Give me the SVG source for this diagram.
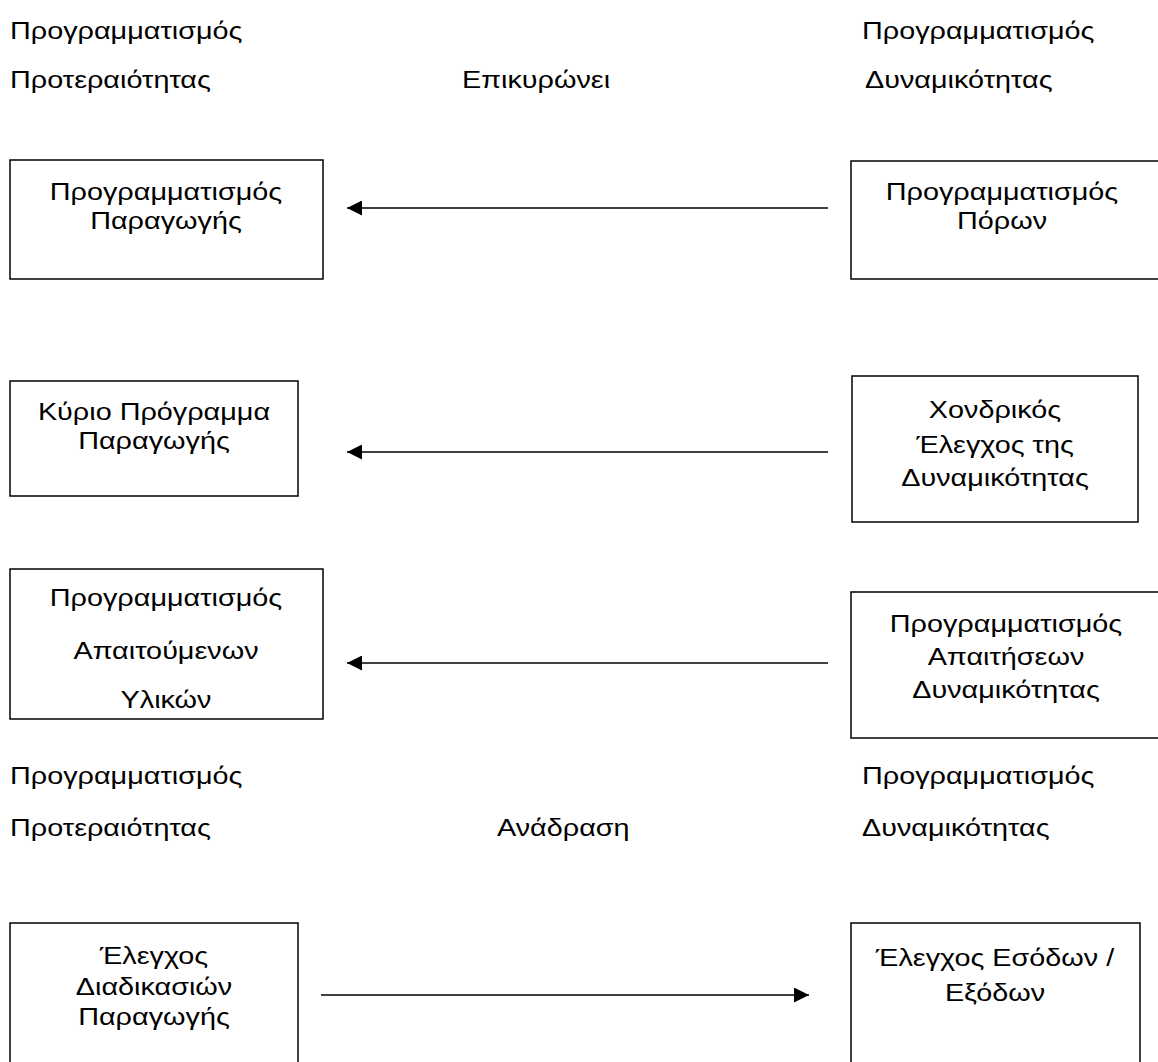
<svg xmlns="http://www.w3.org/2000/svg" width="1158" height="1062" viewBox="0 0 1158 1062">
  <defs>
    <style>
      .bg { fill: #ffffff; }
      .box { fill: none; stroke: #000000; stroke-width: 1.5; }
      .link { fill: none; stroke: #000000; stroke-width: 1.5; }
      text { font-family: "Liberation Sans", Arial, sans-serif; font-size: 24px; fill: #000000; }
      .c { text-anchor: middle; }
    </style>
    <marker id="head" viewBox="0 0 15 15" refX="15" refY="7.5" markerWidth="15" markerHeight="15" markerUnits="userSpaceOnUse" orient="auto">
      <path d="M0,0 L15,7.5 L0,15 Z" fill="#000000"/>
    </marker>
  </defs>

  <rect class="bg" x="0" y="0" width="1158" height="1062"/>

  <!-- heading labels, upper row -->
  <g id="labels-top">
    <text transform="translate(10 39) scale(1.2 1)">Προγραμματισμός</text>
    <text transform="translate(10 88) scale(1.2 1)">Προτεραιότητας</text>
    <text transform="translate(462 88) scale(1.2 1)">Επικυρώνει</text>
    <text transform="translate(862 39) scale(1.2 1)">Προγραμματισμός</text>
    <text transform="translate(865 88) scale(1.2 1)">Δυναμικότητας</text>
  </g>

  <!-- heading labels, lower row -->
  <g id="labels-bottom">
    <text transform="translate(10 784) scale(1.2 1)">Προγραμματισμός</text>
    <text transform="translate(10 836) scale(1.2 1)">Προτεραιότητας</text>
    <text transform="translate(497 836) scale(1.2 1)">Ανάδραση</text>
    <text transform="translate(862 784) scale(1.2 1)">Προγραμματισμός</text>
    <text transform="translate(862 836) scale(1.2 1)">Δυναμικότητας</text>
  </g>

  <g id="production-planning">
    <rect class="box" x="10" y="160" width="313" height="119"/>
    <text class="c" transform="translate(166 200) scale(1.2 1)">Προγραμματισμός</text>
    <text class="c" transform="translate(166 229) scale(1.2 1)">Παραγωγής</text>
  </g>

  <g id="resource-planning">
    <rect class="box" x="851" y="161" width="320" height="118"/>
    <text class="c" transform="translate(1002 200) scale(1.2 1)">Προγραμματισμός</text>
    <text class="c" transform="translate(1002 229) scale(1.2 1)">Πόρων</text>
  </g>

  <g id="master-schedule">
    <rect class="box" x="10" y="381" width="288" height="115"/>
    <text class="c" transform="translate(154 420) scale(1.2 1)">Κύριο Πρόγραμμα</text>
    <text class="c" transform="translate(154 449) scale(1.2 1)">Παραγωγής</text>
  </g>

  <g id="rough-cut-capacity">
    <rect class="box" x="852" y="376" width="286" height="146"/>
    <text class="c" transform="translate(995 418) scale(1.2 1)">Χονδρικός</text>
    <text class="c" transform="translate(995 453) scale(1.2 1)">Έλεγχος της</text>
    <text class="c" transform="translate(995 486) scale(1.2 1)">Δυναμικότητας</text>
  </g>

  <g id="material-requirements">
    <rect class="box" x="10" y="569" width="313" height="150"/>
    <text class="c" transform="translate(166 606) scale(1.2 1)">Προγραμματισμός</text>
    <text class="c" transform="translate(166 659) scale(1.2 1)">Απαιτούμενων</text>
    <text class="c" transform="translate(166 708) scale(1.2 1)">Υλικών</text>
  </g>

  <g id="capacity-requirements">
    <rect class="box" x="851" y="592" width="320" height="146"/>
    <text class="c" transform="translate(1006 632) scale(1.2 1)">Προγραμματισμός</text>
    <text class="c" transform="translate(1006 665) scale(1.2 1)">Απαιτήσεων</text>
    <text class="c" transform="translate(1006 698) scale(1.2 1)">Δυναμικότητας</text>
  </g>

  <g id="shop-floor-control">
    <rect class="box" x="10" y="923" width="288" height="160"/>
    <text class="c" transform="translate(154 964) scale(1.2 1)">Έλεγχος</text>
    <text class="c" transform="translate(154 995) scale(1.2 1)">Διαδικασιών</text>
    <text class="c" transform="translate(154 1025) scale(1.2 1)">Παραγωγής</text>
  </g>

  <g id="input-output-control">
    <rect class="box" x="851" y="923" width="289" height="160"/>
    <text class="c" transform="translate(995 966) scale(1.2 1)">Έλεγχος Εσόδων /</text>
    <text class="c" transform="translate(995 1001) scale(1.2 1)">Εξόδων</text>
  </g>

  <!-- connectors -->
  <g id="connectors">
    <line class="link" x1="828" y1="208" x2="347" y2="208" marker-end="url(#head)"/>
    <line class="link" x1="828" y1="452" x2="347" y2="452" marker-end="url(#head)"/>
    <line class="link" x1="828" y1="663" x2="347" y2="663" marker-end="url(#head)"/>
    <line class="link" x1="321" y1="995" x2="809" y2="995" marker-end="url(#head)"/>
  </g>
</svg>
